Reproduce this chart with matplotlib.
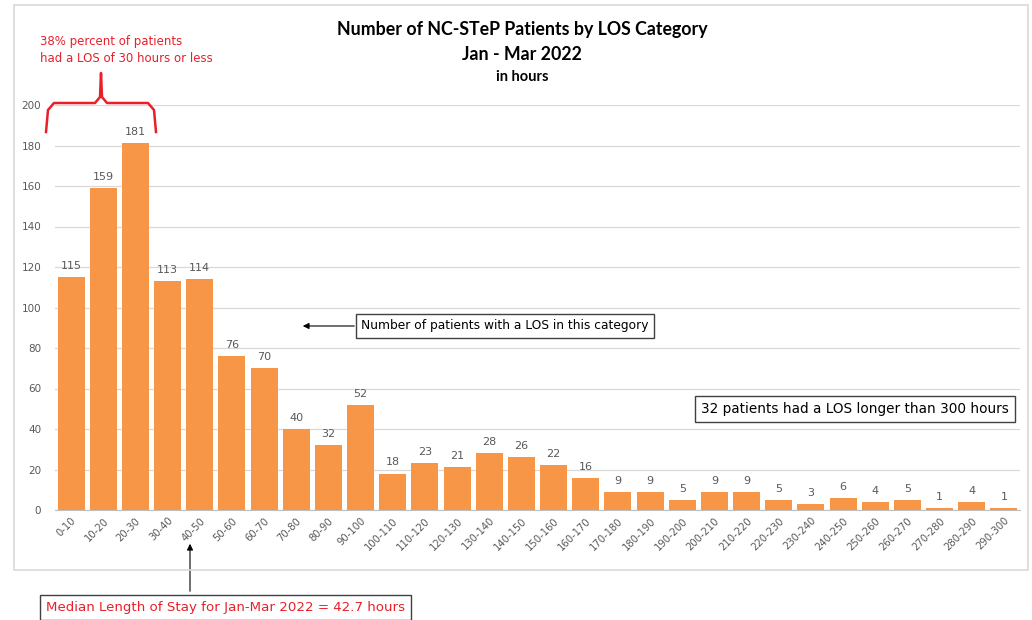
import numpy as np
import matplotlib
matplotlib.use("Agg")
import matplotlib.pyplot as plt
from matplotlib.patches import Rectangle

# LOS categories (hours) and patient counts
categories = [f"{i}-{i + 10}" for i in range(0, 300, 10)]
patients = [115, 159, 181, 113, 114, 76, 70, 40, 32, 52,
            18, 23, 21, 28, 26, 22, 16, 9, 9, 5,
            9, 9, 5, 3, 6, 4, 5, 1, 4, 1]
y_ticks = [0, 20, 40, 60, 80, 100, 120, 140, 160, 180, 200]

BAR = "#F79646"
GREY = "#595959"
RED = "#E8202A"

fig = plt.figure(figsize=(10.32, 6.2), dpi=100)

# outer chart frame
fig.patches.append(Rectangle((14 / 1032, 1 - 570 / 620), 1014 / 1032, 565 / 620,
                             transform=fig.transFigure, fill=False,
                             edgecolor="#D9D9D9", lw=1.2))

ax = fig.add_axes([55 / 1032, 1 - 510 / 620, 965 / 1032, 405 / 620])
x = np.arange(len(categories))
bars = ax.bar(x, patients, width=0.84, color=BAR, zorder=3)

ax.set_xlim(-0.5, len(categories) - 0.5)
ax.set_ylim(0, 200)
ax.set_yticks(y_ticks)
ax.tick_params(axis="y", length=0, labelsize=7.5, labelcolor=GREY, pad=10)
ax.set_xticks(x)
ax.set_xticklabels(categories, rotation=45, ha="right", rotation_mode="anchor",
                   fontsize=7.2, color=GREY)
ax.tick_params(axis="x", length=0, pad=4)
ax.grid(axis="y", color="#D9D9D9", lw=0.9, zorder=0)
for s in ["top", "right", "left"]:
    ax.spines[s].set_visible(False)
ax.spines["bottom"].set_color("#BFBFBF")

for b, v in zip(bars, patients):
    ax.text(b.get_x() + b.get_width() / 2, v + 3, str(v), ha="center", va="bottom",
            fontsize=8, color=GREY)

# title
tfont = ["Lato", "DejaVu Sans"]
fig.text(522 / 1032, 1 - 30 / 620, "Number of NC-STeP Patients by LOS Category",
         ha="center", va="center", fontsize=12.8, fontweight="bold", family=tfont)
fig.text(522 / 1032, 1 - 55 / 620, "Jan - Mar 2022", ha="center", va="center",
         fontsize=12.8, fontweight="bold", family=tfont)
fig.text(522 / 1032, 1 - 77 / 620, "in hours", ha="center", va="center",
         fontsize=10.5, fontweight="bold", family=tfont)

# bracket over first three bars
bx0, bx1, bmid = 46, 156, 101
ytop, yend, ytip = 103, 132, 73
px = lambda v: v / 1032
py = lambda v: 1 - v / 620
fig.lines.append(plt.Line2D(
    [px(bx0), px(bx0 + 2), px(bx0 + 8), px(bmid - 6), px(bmid - 1), px(bmid),
     px(bmid + 1), px(bmid + 6), px(bx1 - 8), px(bx1 - 2), px(bx1)],
    [py(yend), py(ytop + 7), py(ytop), py(ytop), py(ytop - 6), py(ytip),
     py(ytop - 6), py(ytop), py(ytop), py(ytop + 7), py(yend)],
    transform=fig.transFigure, color=RED, lw=1.8, solid_joinstyle="round"))
fig.text(40 / 1032, 1 - 50 / 620, "38% percent of patients\nhad a LOS of 30 hours or less",
         ha="left", va="center", fontsize=8.5, color=RED, linespacing=1.35)

# annotation boxes
box = dict(boxstyle="square,pad=0.45", fc="white", ec="#404040", lw=1)
ax.annotate("", xy=(300 / 1032, 1 - 326 / 620), xytext=(357 / 1032, 1 - 326 / 620),
            xycoords="figure fraction", textcoords="figure fraction",
            arrowprops=dict(arrowstyle="-|>", color="black", lw=0.8, mutation_scale=9))
fig.text(505 / 1032, 1 - 326 / 620, "Number of patients with a LOS in this category",
         ha="center", va="center", fontsize=8.8, color="black", bbox=box)
fig.text(855 / 1032, 1 - 409 / 620, "32 patients had a LOS longer than 300 hours",
         ha="center", va="center", fontsize=9.8, color="black", bbox=box)

ax.annotate("", xy=(190 / 1032, 1 - 541 / 620), xytext=(190 / 1032, 1 - 594 / 620),
            xycoords="figure fraction", textcoords="figure fraction",
            arrowprops=dict(arrowstyle="-|>", color="black", lw=0.8, mutation_scale=9))
fig.text(225 / 1032, 1 - 607 / 620, "Median Length of Stay for Jan-Mar 2022 = 42.7 hours",
         ha="center", va="center", fontsize=9.6, color=RED,
         bbox=dict(boxstyle="square,pad=0.45", fc="white", ec="#404040", lw=1))

fig.savefig("out.png", dpi=100)
